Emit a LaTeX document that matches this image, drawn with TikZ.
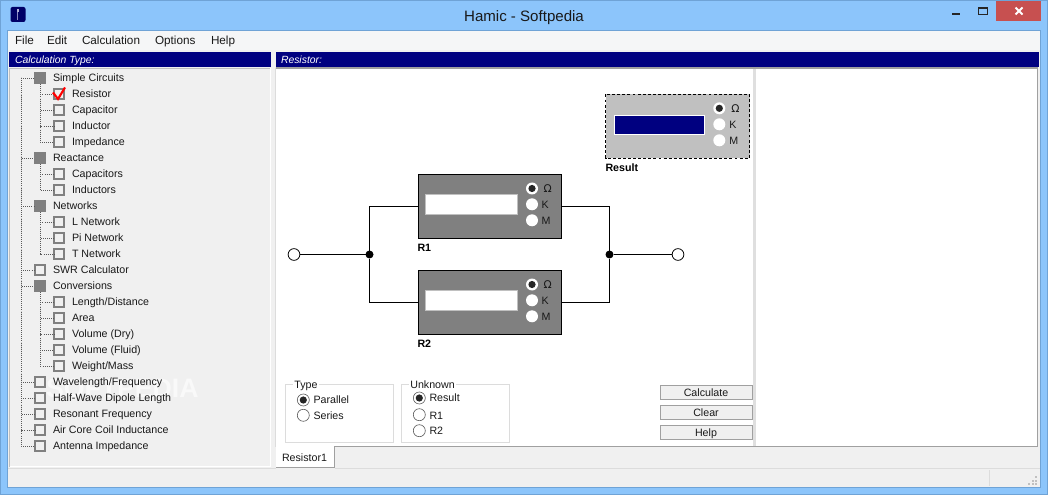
\documentclass[tikz,border=0pt]{standalone}
\usepackage{fontspec}
\setmainfont{Liberation Sans}
\definecolor{winblue}{HTML}{8CC5FB}
\definecolor{winedge}{HTML}{6FA3D6}
\definecolor{face}{HTML}{F0F0F0}
\definecolor{menubg}{HTML}{F5F6F7}
\definecolor{navy}{HTML}{000080}
\definecolor{closered}{HTML}{C75050}
\definecolor{midgray}{HTML}{808080}
\definecolor{ltgray}{HTML}{C0C0C0}
\definecolor{edgegray}{HTML}{A0A0A0}
\definecolor{groupgray}{HTML}{DCDCDC}
\tikzset{
  ui/.style={inner sep=0pt,outer sep=0pt,font=\fontsize{8}{9}\selectfont,text=black!90,text height=5.8pt,text depth=0.3pt},
  lbl/.style={ui,anchor=west},
  menulbl/.style={ui,anchor=west,font=\fontsize{8.8}{10}\selectfont},
  boldlbl/.style={ui,anchor=west,font=\fontsize{8}{9}\selectfont\bfseries,text=black},
  hdr/.style={ui,anchor=west,text=white,font=\fontsize{7.8}{9}\selectfont\itshape},
  omega/.style={ui,anchor=west,font=\fontspec{DejaVu Sans}\fontsize{8}{9}\selectfont},
  rowbox/.style={draw=midgray,line width=1.4pt,fill=face,minimum size=7.6pt,inner sep=0pt,outer sep=0pt},
  rowboxfull/.style={fill=midgray,minimum size=9.1pt,inner sep=0pt,outer sep=0pt},
  treeline/.style={densely dotted,line width=0.55pt,draw=black!65},
  radio/.style={circle,draw=black!65,line width=0.45pt,fill=white,minimum size=9pt,inner sep=0pt,outer sep=0pt},
  plate/.style={circle,fill=white,minimum size=9pt,inner sep=0pt,outer sep=0pt},
  dotmark/.style={circle,fill=black!85,minimum size=5.4pt,inner sep=0pt,outer sep=0pt},
  wire/.style={draw=black,line width=0.8pt},
  term/.style={circle,draw=black,line width=0.6pt,fill=white,minimum size=8.8pt,inner sep=0pt,outer sep=0pt},
  junction/.style={circle,fill=black,minimum size=6pt,inner sep=0pt,outer sep=0pt},
  resbox/.style={draw=black,line width=0.75pt,fill=midgray,minimum width=107.5pt,minimum height=48pt,inner sep=0pt,outer sep=0pt},
  field/.style={draw=ltgray,line width=0.7pt,fill=white,minimum width=69.5pt,minimum height=15pt,inner sep=0pt,outer sep=0pt},
  btn/.style={ui,draw=edgegray,line width=0.7pt,fill=face,minimum width=69pt,minimum height=11pt,text height=5.8pt,text depth=0.3pt},
  groupbox/.style={draw=groupgray,line width=0.7pt,minimum width=81pt,minimum height=43.5pt,inner sep=0pt,outer sep=0pt},
  legend/.style={lbl,fill=white,inner xsep=1pt},
}
\newcommand{\parentfull}[3]{\node[rowboxfull] (#1) at (40,#2) {}; \node[lbl] (#1t) at (53,#2) {#3}; \draw[treeline] (trunk) -- (trunk |- #1) -- (#1);}
\newcommand{\parentempty}[3]{\node[rowbox] (#1) at (40,#2) {}; \node[lbl] (#1t) at (53,#2) {#3}; \draw[treeline] (trunk) -- (trunk |- #1) -- (#1);}
\newcommand{\childrow}[4]{\node[rowbox] (#2) at (59,#3) {}; \node[lbl] (#2t) at (72,#3) {#4}; \draw[treeline] (#1) -- (#1 |- #2) -- (#2);}
\begin{document}
\begin{tikzpicture}[x=0.75pt,y=-0.75pt]
\useasboundingbox (0,0) rectangle (1048,495);
% window
\fill[winblue] (0,0) rectangle (1048,495);
\draw[winedge,line width=0.75pt] (0.5,0.5) rectangle (1047.5,494.5);
\fill[face] (8,31) rectangle (1040,487);
\draw[winedge,line width=0.6pt] (7.5,30.5) rectangle (1040.5,487.5);
\fill[menubg] (8,31) rectangle (1040,50);
% title bar
\node[ui,font=\fontsize{11.3}{13}\selectfont,text height=8pt,text depth=0.3pt] (title) at (524,16) {Hamic - Softpedia};
\fill[navy!80!black,rounded corners=1.5pt] (10.5,7) rectangle (25.5,22);
\fill[white!70!navy] (16.8,9.5) rectangle (18.8,12);
\fill[white!55!navy] (17.2,12) rectangle (18.4,20);
\fill[closered] (996,1) rectangle (1041,21);
\draw[white,line width=1.35pt] (1015.5,7.5) -- (1022.5,14.5) (1022.5,7.5) -- (1015.5,14.5);
\fill[black!85] (952,12.7) rectangle (960,14.7);
\draw[black!85,line width=0.75pt] (978.5,8) rectangle (987.5,14.5);
\fill[black!85] (978,7.5) rectangle (988,9.5);
% menu
\node[menulbl] (mfile) at (15,40.5) {File};
\node[menulbl] (medit) at (47,40.5) {Edit};
\node[menulbl] (mcalc) at (82,40.5) {Calculation};
\node[menulbl] (mopt) at (155,40.5) {Options};
\node[menulbl] (mhelp) at (211,40.5) {Help};
% panels
\fill[navy] (9,52) rectangle (271,67);
\fill[navy] (276,52) rectangle (1039,67);
\node[hdr] (hleft) at (15,59.5) {Calculation Type:};
\node[hdr] (hright) at (281,59.5) {Resistor:};
\fill[face] (9.5,69) rectangle (270.5,466.5);
\draw[ltgray,line width=0.9pt] (9.5,466.5) -- (9.5,68.5) -- (270.5,68.5);
\draw[white,line width=0.9pt] (9.5,466.8) -- (270.5,466.8) -- (270.5,68.5);
\fill[white] (276,68) rectangle (1037.5,446.5);
\draw[groupgray,line width=0.6pt] (275.5,68) -- (275.5,446.5);
\draw[edgegray,line width=0.9pt] (275.5,68) -- (1037.5,68) -- (1037.5,446.5) -- (334,446.5);
\fill[face!85!gray] (753,69) rectangle (756,446);
% tree
\coordinate (trunk) at (21,78);
\node[ui,anchor=west,font=\fontsize{20}{22}\selectfont\bfseries,text=white,opacity=0.6,text height=14.5pt] (wmark) at (46,388) {SOFTPEDIA};
\parentfull{simple}{78}{Simple Circuits}
\childrow{simple}{resistor}{94}{Resistor}
\childrow{simple}{capacitor}{110}{Capacitor}
\childrow{simple}{inductor}{126}{Inductor}
\childrow{simple}{impedance}{142}{Impedance}
\parentfull{reactance}{158}{Reactance}
\childrow{reactance}{capacitors}{174}{Capacitors}
\childrow{reactance}{inductors}{190}{Inductors}
\parentfull{networks}{206}{Networks}
\childrow{networks}{lnet}{222}{L Network}
\childrow{networks}{pinet}{238}{Pi Network}
\childrow{networks}{tnet}{254}{T Network}
\parentempty{swr}{270}{SWR Calculator}
\parentfull{conversions}{286}{Conversions}
\childrow{conversions}{length}{302}{Length/Distance}
\childrow{conversions}{area}{318}{Area}
\childrow{conversions}{voldry}{334}{Volume (Dry)}
\childrow{conversions}{volfluid}{350}{Volume (Fluid)}
\childrow{conversions}{weight}{366}{Weight/Mass}
\parentempty{wave}{382}{Wavelength/Frequency}
\parentempty{dipole}{398}{Half-Wave Dipole Length}
\parentempty{resonant}{414}{Resonant Frequency}
\parentempty{coil}{430}{Air Core Coil Inductance}
\parentempty{antenna}{446}{Antenna Impedance}
\draw[red,line width=1.6pt,line join=miter] (53,92.5) -- (58,99) -- (65,87.5);
% circuit
\node[term] (inT) at (294,254.5) {};
\node[junction] (jL) at (369.5,254.5) {};
\node[junction] (jR) at (609.5,254.5) {};
\node[term] (outT) at (678,254.5) {};
\node[resbox] (R1) at (489.75,206.3) {};
\node[resbox] (R2) at (489.75,302.3) {};
\draw[wire] (inT) -- (jL);
\draw[wire] (jR) -- (outT);
\draw[wire] (jL) |- (R1.west);
\draw[wire] (jL) |- (R2.west);
\draw[wire] (jR) |- (R1.east);
\draw[wire] (jR) |- (R2.east);
\node[field] (R1f) at (471.4,204.3) {};
\node[field] (R2f) at (471.4,300.3) {};
\node[plate] (R1o) at (532,188.5) {}; \node[dotmark] at (R1o) {}; \node[omega] at (543.5,189) {Ω};
\node[plate] (R1k) at (532,204.3) {}; \node[lbl] at (541.7,204.5) {K};
\node[plate] (R1m) at (532,220.3) {}; \node[lbl] at (541.7,220.5) {M};
\node[plate] (R2o) at (532,284.5) {}; \node[dotmark] at (R2o) {}; \node[omega] at (543.5,285) {Ω};
\node[plate] (R2k) at (532,300.3) {}; \node[lbl] at (541.7,300.5) {K};
\node[plate] (R2m) at (532,316.3) {}; \node[lbl] at (541.7,316.5) {M};
\node[boldlbl] (R1l) at (417.5,247.5) {R1};
\node[boldlbl] (R2l) at (417.5,343.5) {R2};
% result
\draw[black,line width=0.6pt,dash pattern=on 2.2pt off 1.6pt,fill=ltgray] (605.5,94.5) rectangle (749.5,158);
\node[field,draw=white,fill=navy,minimum width=68pt,minimum height=14.2pt] (resf) at (659.5,124.6) {};
\node[plate] (Qo) at (719.3,108.3) {}; \node[dotmark] at (Qo) {}; \node[omega] at (731.3,109) {Ω};
\node[plate] (Qk) at (719.3,124.3) {}; \node[lbl] at (729.3,124.5) {K};
\node[plate] (Qm) at (719.3,140.3) {}; \node[lbl] at (729.3,140.5) {M};
\node[boldlbl] (Rl) at (605.5,167.7) {Result};
% groups
\node[groupbox] (gtype) at (339,413.5) {};
\node[groupbox] (gunk) at (455,413.5) {};
\node[legend] (ltype) at (293,385) {Type};
\node[legend] (lunk) at (409,385) {Unknown};
\node[radio] (rpar) at (303.3,400) {}; \node[dotmark] at (rpar) {}; \node[lbl] at (313.5,400) {Parallel};
\node[radio] (rser) at (303.3,415.3) {}; \node[lbl] at (313.5,415.5) {Series};
\node[radio] (rres) at (419.3,398) {}; \node[dotmark] at (rres) {}; \node[lbl] at (429.5,398) {Result};
\node[radio] (rr1) at (419.3,414.7) {}; \node[lbl] at (429.5,415.5) {R1};
\node[radio] (rr2) at (419.3,430.7) {}; \node[lbl] at (429.5,431) {R2};
% buttons
\node[btn] (bcalc) at (706,392.5) {Calculate};
\node[btn] (bclear) at (706,412.5) {Clear};
\node[btn] (bhelp) at (706,432.5) {Help};
% tab
\fill[white] (276,446) rectangle (334,467.5);
\draw[edgegray,line width=0.75pt] (276,467.7) -- (334.5,467.7) -- (334.5,446.5);
\node[lbl] (tab) at (282,457.5) {Resistor1};
% status
\draw[groupgray,line width=0.75pt] (334.5,468.5) -- (1040,468.5);
\draw[groupgray,line width=0.75pt] (8,468.5) -- (276,468.5);
\draw[groupgray,line width=0.75pt] (989.5,470) -- (989.5,486);
\foreach \px/\py in {1036/477,1036/480.5,1036/484,1032.5/480.5,1032.5/484,1029/484}
  \fill[ltgray] (\px-1,\py-1) rectangle (\px+1.2,\py+1.2);
\end{tikzpicture}
\end{document}
